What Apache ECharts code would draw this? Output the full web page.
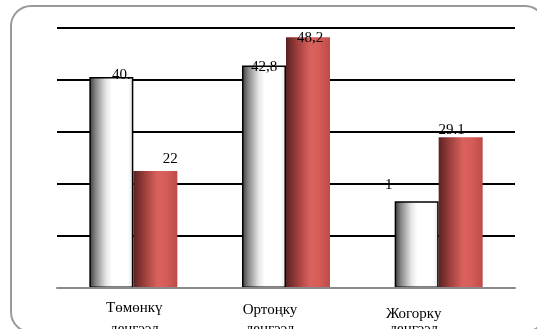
<!DOCTYPE html>
<html>
<head>
<meta charset="utf-8">
<script src="https://cdn.jsdelivr.net/npm/echarts@6/dist/echarts.min.js"></script>
<style>html,body{margin:0;padding:0;background:#fff;}#c{width:537px;height:329px;}</style>
</head>
<body>
<div id="c"></div>
<script>
var categories = [['Төмөнкү', 'денгээл'], ['Ортоңку', 'денгээл'], ['Жогорку', 'денгээл']];
var seriesA = [40.6, 42.8, 16.7];
var seriesB = [22.5, 48.2, 29.0];
var labelsA = ['40.', '42,8', '1'];
var labelsB = ['22', '48,2', '29.1'];
var yTicks = [0, 10, 20, 30, 40, 50];

var offA = [[10, 6], [0, 9], [-28, -9]];
var offB = [[15, -4], [2, 8], [-9, 0]];

var chart = echarts.init(document.getElementById('c'), null, {renderer: 'canvas'});

var whiteGrad = new echarts.graphic.LinearGradient(0, 0, 1, 0, [
  {offset: 0, color: '#3a3a3a'},
  {offset: 0.15, color: '#8a8a8a'},
  {offset: 0.38, color: '#e6e6e6'},
  {offset: 0.52, color: '#ffffff'},
  {offset: 0.88, color: '#ffffff'},
  {offset: 1, color: '#e0e0e0'}
]);
var redGrad = new echarts.graphic.LinearGradient(0, 0, 1, 0, [
  {offset: 0, color: '#5a2222'},
  {offset: 0.25, color: '#9c3e3c'},
  {offset: 0.55, color: '#da625d'},
  {offset: 0.75, color: '#d65c57'},
  {offset: 1, color: '#bc4c49'}
]);

var font = '"Liberation Serif", "DejaVu Serif", serif';

function mk(vals, labs, offs) {
  return vals.map(function (v, i) {
    return {value: v, label: {formatter: labs[i], offset: offs[i]}};
  });
}

var rich = {
  t0: {fontFamily: font, fontSize: 15, color: '#000', lineHeight: 21, padding: [0, 0, 0, 2]},
  b0: {fontFamily: font, fontSize: 15, color: '#000', lineHeight: 21, padding: [0, 0, 0, 2]},
  t1: {fontFamily: font, fontSize: 15, color: '#000', lineHeight: 21, padding: [3, 32, 0, 0]},
  b1: {fontFamily: font, fontSize: 15, color: '#000', lineHeight: 21, padding: [0, 32, 0, 0]},
  t2: {fontFamily: font, fontSize: 15, color: '#000', lineHeight: 21, padding: [11, 50, 0, 0]},
  b2: {fontFamily: font, fontSize: 15, color: '#000', lineHeight: 21, padding: [0, 50, 0, 0]}
};

chart.setOption({
  animation: false,
  backgroundColor: '#fff',
  graphic: [{
    type: 'rect',
    shape: {x: 11, y: 6, width: 534, height: 326, r: 20},
    style: {fill: 'none', stroke: '#9a9a9a', lineWidth: 2},
    z: -10
  }],
  grid: {left: 57, right: 22, top: 28, bottom: 41, containLabel: false, outerBoundsMode: 'none'},
  xAxis: {
    type: 'category',
    data: categories.map(function (c) { return c.join('\n'); }),
    axisLine: {show: true, lineStyle: {color: '#8a8a8a', width: 2}},
    axisTick: {show: false},
    axisLabel: {
      margin: 10,
      interval: 0,
      formatter: function (v, i) {
        return '{t' + i + '|' + categories[i][0] + '}\n{b' + i + '|' + categories[i][1] + '}';
      },
      rich: rich
    },
    z: 5
  },
  yAxis: {
    type: 'value',
    min: yTicks[0],
    max: yTicks[yTicks.length - 1],
    interval: 10,
    axisLine: {show: false},
    axisTick: {show: false},
    axisLabel: {show: false},
    splitLine: {show: true, lineStyle: {color: '#000', width: 2}}
  },
  series: [{
    type: 'bar',
    data: mk(seriesA, labelsA, offA),
    barWidth: 44,
    barGap: '0%',
    itemStyle: {color: whiteGrad, borderColor: '#000', borderWidth: 1.5},
    label: {show: true, position: 'top', distance: 0, fontFamily: font, fontSize: 15, color: '#000'},
    z: 2
  }, {
    type: 'bar',
    data: mk(seriesB, labelsB, offB),
    barWidth: 44,
    itemStyle: {color: redGrad},
    label: {show: true, position: 'top', distance: 0, fontFamily: font, fontSize: 15, color: '#000'},
    z: 2
  }]
});
</script>
</body>
</html>
